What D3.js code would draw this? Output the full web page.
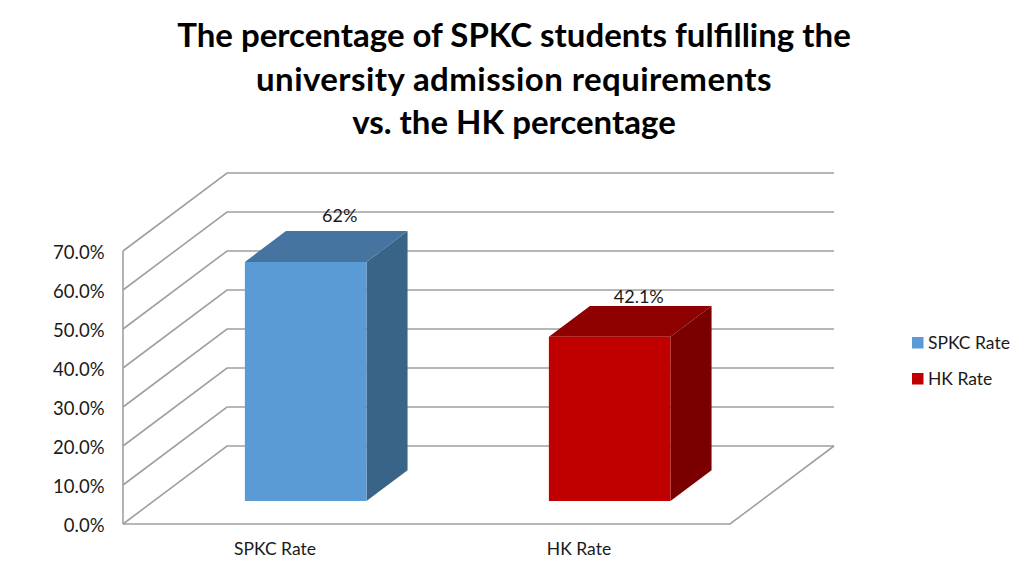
<!DOCTYPE html>
<html><head><meta charset="utf-8">
<script src="https://cdnjs.cloudflare.com/ajax/libs/d3/7.8.5/d3.min.js"></script>
<style>html,body{margin:0;padding:0;background:#fff}svg{display:block}text{font-family:Lato,"Open Sans",sans-serif;fill:#1a1a1a}</style>
</head><body><svg id="c" width="1024" height="575"></svg>
<script>
const titleLines = ["The percentage of SPKC students fulfilling the","university admission requirements","vs. the HK percentage"];
const categories = ["SPKC Rate","HK Rate"];
const barValues = [61.3, 42.1];
const dataLabels = ["62%","42.1%"];
const yTicks = [0,10,20,30,40,50,60,70];
const frontColors = ["#5b9bd5","#c00000"];
const topColors = ["#44749f","#8f0000"];
const sideColors = ["#3a6388","#7a0000"];

const svg = d3.select("#c");
const x = d3.scaleBand().domain(categories).range([123,731]).paddingInner(0.6).paddingOuter(0.3);
const y = d3.scaleLinear().domain([0,70]).range([524,251]);
const dx = d3.scaleLinear().domain([0,1]).range([0,104]);
const dy = d3.scaleLinear().domain([0,1]).range([0,-78]);
const P = (px,v,d)=>[px+dx(d), y(v)+dy(d)];
const poly = pts => "M"+pts.map(p=>p.join(",")).join("L")+"Z";
const line = pts => "M"+pts.map(p=>p.join(",")).join("L");
const GRID="#a0a0a0";
const xEnd=730;

// walls and floor
const g = svg.append("g").attr("fill","none").attr("stroke",GRID).attr("stroke-width",1.6);
yTicks.forEach(t=>{
  g.append("path").attr("d",line([P(123,t,0),P(123,t,1),P(xEnd,t,1)]));
});
g.append("path").attr("d",line([P(123,0,0),P(123,70,0)]));
g.append("path").attr("d",line([P(123,0,0),P(xEnd,0,0),P(xEnd,0,1)]));

// y axis labels
svg.append("g").selectAll("text").data(yTicks).join("text")
  .attr("x",104.5).attr("y",d=>y(d)+1).attr("dy","0.36em").attr("text-anchor","end")
  .attr("font-size",18.5).text(d=>d.toFixed(1)+"%");

// bars
const d0=0.295,d1=0.69;
const labelGaps=[9,3];
const labelShifts=[-7,-12];
categories.forEach((c,i)=>{
  const x0=x(c), x1=x0+x.bandwidth(), v=barValues[i];
  const b=svg.append("g");
  b.append("path").attr("fill",sideColors[i]).attr("d",poly([P(x1,0,d0),P(x1,0,d1),P(x1,v,d1),P(x1,v,d0)]));
  b.append("path").attr("fill",topColors[i]).attr("d",poly([P(x0,v,d0),P(x1,v,d0),P(x1,v,d1),P(x0,v,d1)]));
  b.append("path").attr("fill",frontColors[i]).attr("d",poly([P(x0,0,d0),P(x1,0,d0),P(x1,v,d0),P(x0,v,d0)]));
  const top=P((x0+x1)/2,v,d1);
  svg.append("text").attr("x",top[0]+labelShifts[i]).attr("y",top[1]-labelGaps[i]).attr("text-anchor","middle").attr("font-size",18).text(dataLabels[i]);
  svg.append("text").attr("x",x0+x.bandwidth()/2).attr("y",555).attr("text-anchor","middle").attr("font-size",17.5).text(c);
});

// title
svg.append("g").selectAll("text").data(titleLines).join("text")
  .attr("x",514).attr("y",(d,i)=>47+i*43.5).attr("text-anchor","middle")
  .attr("font-size",33).attr("font-weight",700).style("fill","#000")
  .style("letter-spacing",(d,i)=>i===1?"0.43px":null).text(d=>d);

// legend
const lg=svg.append("g").selectAll("g").data(categories).join("g")
  .attr("transform",(d,i)=>`translate(912,${337+i*36})`);
lg.append("rect").attr("width",11.5).attr("height",11.5).attr("fill",(d,i)=>frontColors[i]);
lg.append("text").attr("x",16).attr("y",6).attr("dy","0.36em").attr("font-size",17.5).text(d=>d);
</script></body></html>
